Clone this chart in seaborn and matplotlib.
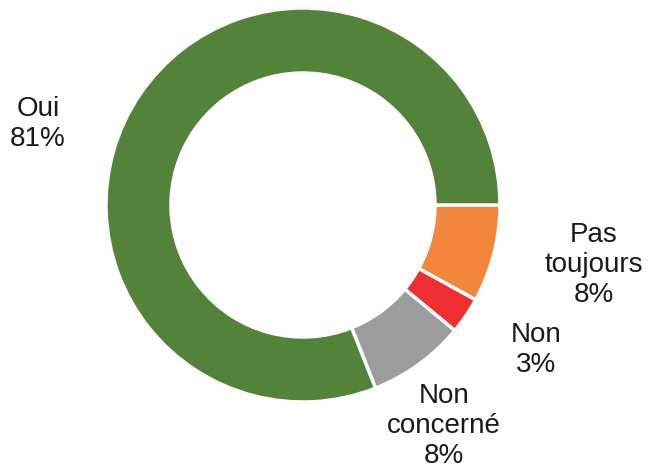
import matplotlib
matplotlib.use("Agg")
import matplotlib.pyplot as plt
import seaborn as sns

# Data (clockwise from 3 o'clock)
categories = ["Pas\ntoujours", "Non", "Non\nconcerné", "Oui"]
values = [8, 3, 8, 81]
colors = ["#F4863B", "#EE2E2F", "#9A9C9D", "#538338"]

# label anchor points in pixel space (x, y from top)
label_pos = [(594, 265), (536, 350), (444, 426), (38, 124)]

sns.set_theme(style="white")
plt.rcParams["font.family"] = ["Liberation Sans", "DejaVu Sans"]

W, H = 650, 475
fig = plt.figure(figsize=(6.5, 4.75), dpi=100)
ax = fig.add_axes([0, 0, 1, 1])

cx, cy, r = 303, H - 205, 197
ax.pie(values, colors=sns.color_palette(colors), startangle=0, counterclock=False,
       center=(cx, cy), radius=r, frame=True,
       wedgeprops=dict(width=r * 0.33, edgecolor="white", linewidth=2.5))
ax.set_xlim(0, W)
ax.set_ylim(0, H)
ax.set_aspect("equal")
ax.axis("off")

for cat, val, (lx, ly) in zip(categories, values, label_pos):
    ax.text(lx, H - ly, f"{cat}\n{val}%", ha="center", va="center",
            fontsize=20, color="#1a1a1a", linespacing=1.2)

plt.savefig("out.png", dpi=100)
plt.close()
